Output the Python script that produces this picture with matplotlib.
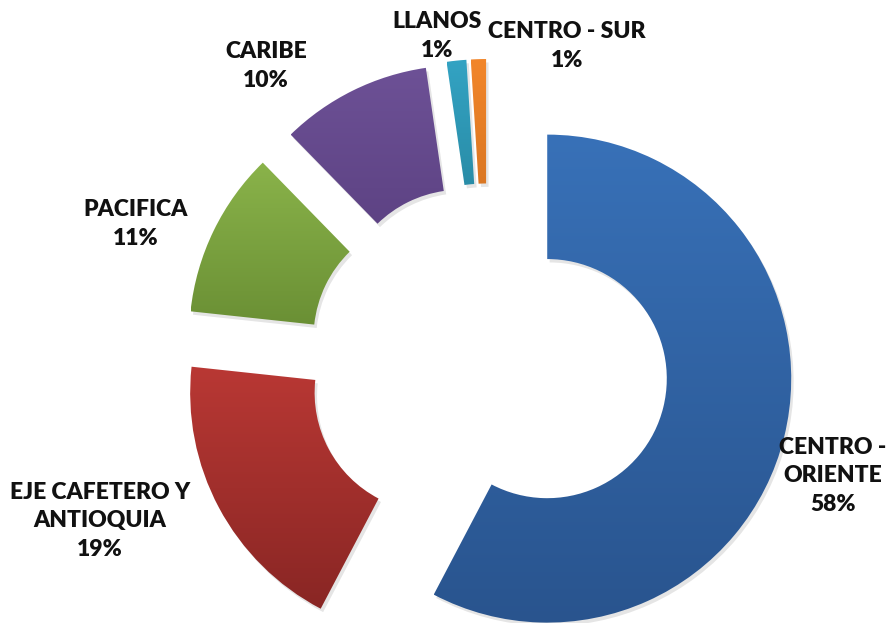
import numpy as np
import matplotlib
matplotlib.use("Agg")
import matplotlib.pyplot as plt
from matplotlib.colors import LinearSegmentedColormap
from matplotlib.patches import Wedge

# ---- data ----
categories = ["CENTRO -\nORIENTE", "EJE CAFETERO Y\nANTIOQUIA", "PACIFICA", "CARIBE", "LLANOS", "CENTRO - SUR"]
values = [57.7, 19.0, 11.0, 10.0, 1.3, 1.0]
pct_labels = ["58%", "19%", "11%", "10%", "1%", "1%"]

top_colors = ["#3871b8", "#b93834", "#8ab34a", "#6d5196", "#33a3c3", "#f2862a"]
bot_colors = ["#29548e", "#892624", "#688d33", "#553b7a", "#21788e", "#c4691d"]

W, H = 890, 623
fig = plt.figure(figsize=(W / 100, H / 100), dpi=100)
ax = fig.add_axes([0, 0, 1, 1])

R_PX = 244.0
CX, CY = 488.0, 364.0
xlim = (-CX / R_PX, (W - CX) / R_PX)
ylim = (-(H - CY) / R_PX, CY / R_PX)

wedges, _ = ax.pie(values, startangle=90, counterclock=False, radius=1.0,
                   explode=[0.25] * len(values),
                   wedgeprops=dict(width=0.51, linewidth=0))

ax.set_xlim(*xlim)
ax.set_ylim(*ylim)
ax.set_aspect("auto")
ax.axis("off")

for i, w in enumerate(wedges):
    w.set_facecolor("none")
    cx, cy = w.center
    # shadow
    sh = Wedge((cx + 0.010, cy - 0.014), w.r, w.theta1, w.theta2, width=w.width,
               facecolor="#000000", alpha=0.10, linewidth=0, zorder=1)
    ax.add_patch(sh)
    # gradient fill clipped to the wedge
    path = w.get_path().transformed(w.get_patch_transform())
    verts = path.vertices
    x0, x1 = verts[:, 0].min(), verts[:, 0].max()
    y0, y1 = verts[:, 1].min(), verts[:, 1].max()
    cmap = LinearSegmentedColormap.from_list(f"g{i}", [bot_colors[i], top_colors[i]])
    grad = np.linspace(0, 1, 256).reshape(-1, 1)
    im = ax.imshow(grad, cmap=cmap, origin="lower", extent=(x0, x1, y0, y1),
                   aspect="auto", zorder=2, interpolation="bilinear")
    im.set_clip_path(w)
    w.set_zorder(3)

ax.set_xlim(*xlim)
ax.set_ylim(*ylim)

# label positions (pixel coords of label centres)
label_px = [(833, 476), (100, 521), (136, 224), (266, 66), (437, 36), (567, 46)]

def px2data(px, py):
    return (px - CX) / R_PX, (CY - py) / R_PX

for i, (px, py) in enumerate(label_px):
    x, y = px2data(px, py)
    ax.text(x, y, categories[i] + "\n" + pct_labels[i], ha="center", va="center",
            fontsize=16.5, fontweight="heavy", family=["Lato", "DejaVu Sans"],
            color="#111111", linespacing=1.42, zorder=5)

fig.savefig("out.png", dpi=100, facecolor="white")
